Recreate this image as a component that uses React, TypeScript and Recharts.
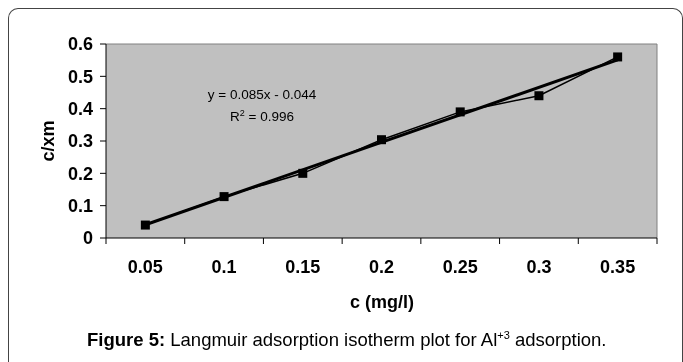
import React from "react"
import { LineChart, Line, XAxis, YAxis, CartesianGrid, ReferenceLine } from "recharts"

// c (mg/l) categories and measured c/xm values
const categories = ["0.05", "0.1", "0.15", "0.2", "0.25", "0.3", "0.35"]
const cxm = [0.04, 0.128, 0.2, 0.304, 0.39, 0.44, 0.56]
const yTicks = [0, 0.1, 0.2, 0.3, 0.4, 0.5, 0.6]

// linear trendline end points (y = 0.085x - 0.044 read at first / last category)
const trendStart = { x: "0.05", y: 0.041 }
const trendEnd = { x: "0.35", y: 0.551 }

const data = categories.map((c, i) => ({ c, value: cxm[i] }))

const FONT = "'Liberation Sans', Arial, Helvetica, sans-serif"
const CHART_W = 675
const CHART_H = 300
const PLOT_LEFT = 98
const PLOT_RIGHT = 649
const PLOT_TOP = 36
const X_AXIS_H = 70
const BAND = (PLOT_RIGHT - PLOT_LEFT) / categories.length

const SquareDot = (props: any) => {
    const { cx, cy, index } = props
    if (cx == null || cy == null) return null
    return <rect key={`dot-${index}`} x={cx - 4.5} y={cy - 4.5} width={9} height={9} fill="#000" />
}

const XTick = (props: any) => {
    const { x, y, payload, index } = props
    const left = x - BAND / 2
    return (
        <g>
            <line x1={left} y1={y} x2={left} y2={y + 6} stroke="#000" />
            {index === categories.length - 1 && (
                <line x1={x + BAND / 2} y1={y} x2={x + BAND / 2} y2={y + 6} stroke="#000" />
            )}
            <text x={x} y={y + 29} textAnchor="middle" dominantBaseline="central"
                fontFamily={FONT} fontSize={18} fontWeight="bold" fill="#000">
                {payload.value}
            </text>
        </g>
    )
}

export default function App() {
    return (
        <div style={{ position: "relative", width: CHART_W, height: 346, fontFamily: FONT }}>
            <div style={{
                position: "fixed", left: 8, top: 8, width: CHART_W, height: 360,
                border: "1px solid #444", borderBottom: "none", borderRadius: "10px 10px 0 0",
                boxSizing: "border-box"
            }} />
            <div style={{ position: "absolute", left: 0, top: 0 }}>
                <LineChart
                    width={CHART_W}
                    height={CHART_H}
                    data={data}
                    margin={{ top: PLOT_TOP, right: CHART_W - PLOT_RIGHT, left: 0, bottom: 0 }}
                >
                    <CartesianGrid
                        fill="#c0c0c0"
                        stroke="#808080"
                        horizontalCoordinatesGenerator={() => [PLOT_TOP]}
                        verticalCoordinatesGenerator={() => [PLOT_RIGHT]}
                    />
                    <XAxis
                        dataKey="c"
                        height={X_AXIS_H}
                        padding={{ left: BAND / 2, right: BAND / 2 }}
                        axisLine={{ stroke: "#000" }}
                        tickLine={false}
                        tickSize={0}
                        tickMargin={0}
                        interval={0}
                        tick={<XTick />}
                    />
                    <YAxis
                        width={PLOT_LEFT}
                        domain={[0, 0.6]}
                        ticks={yTicks}
                        interval={0}
                        axisLine={{ stroke: "#000" }}
                        tickLine={{ stroke: "#000" }}
                        tickSize={6}
                        tickMargin={7}
                        tick={{ fill: "#000", fontSize: 18, fontWeight: "bold", fontFamily: FONT }}
                    />
                    <ReferenceLine
                        segment={[trendStart, trendEnd]}
                        stroke="#000"
                        strokeWidth={3}
                        ifOverflow="visible"
                    />
                    <Line
                        dataKey="value"
                        stroke="#000"
                        strokeWidth={1.5}
                        dot={<SquareDot />}
                        activeDot={false}
                        isAnimationActive={false}
                    />
                </LineChart>
            </div>
            <div style={{
                position: "absolute", left: 174, top: 76, width: 160, textAlign: "center",
                fontSize: 13.5, lineHeight: "22px", color: "#000"
            }}>
                <div>y = 0.085x - 0.044</div>
                <div>R<sup style={{ fontSize: 9, lineHeight: 0 }}>2</sup> = 0.996</div>
            </div>
            <div style={{
                position: "absolute", left: 10, top: 123, width: 60, height: 20, lineHeight: "20px",
                textAlign: "center", transform: "rotate(-90deg)", fontSize: 18, fontWeight: "bold"
            }}>c/xm</div>
            <div style={{
                position: "absolute", left: 274, top: 284, width: 200, lineHeight: "20px",
                textAlign: "center", fontSize: 18, fontWeight: "bold"
            }}>c (mg/l)</div>
            <div style={{
                position: "absolute", left: 79, top: 321, whiteSpace: "nowrap",
                lineHeight: "22px", fontSize: 18.5
            }}>
                <b>Figure 5:</b> Langmuir adsorption isotherm plot for Al<sup style={{ fontSize: 11, lineHeight: 0 }}>+3</sup> adsorption.
            </div>
        </div>
    )
}
